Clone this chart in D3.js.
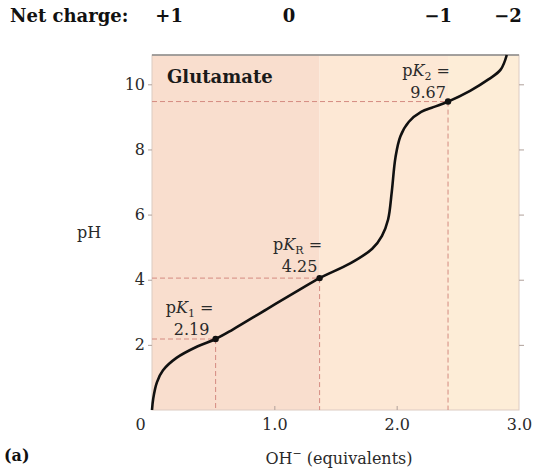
<!DOCTYPE html>
<html><head><meta charset="utf-8">
<script src="https://cdn.jsdelivr.net/npm/d3@7"></script>
<style>body{margin:0;background:#fff}svg{display:block}</style>
</head><body>
<svg id="c" width="533" height="470"></svg>
<script>
// ---- data ----
const curveX = [0, 0.01, 0.04, 0.09, 0.2, 0.37, 0.52, 0.66, 0.94, 1.2, 1.37, 1.62, 1.8, 1.88, 1.93, 1.96, 1.99, 2.03, 2.1, 2.2, 2.3, 2.42, 2.6, 2.75, 2.85, 2.9];
const curvePH = [0, 0.35, 0.85, 1.22, 1.6, 1.95, 2.18, 2.47, 3.1, 3.68, 4.05, 4.5, 4.95, 5.35, 5.85, 6.7, 7.75, 8.4, 8.85, 9.15, 9.3, 9.47, 9.8, 10.15, 10.45, 10.9];
const pkNames = ["1", "R", "2"];
const pkValues = ["2.19", "4.25", "9.67"];
const pkX = [0.52, 1.37, 2.42];
const pkPH = [2.18, 4.05, 9.47];
const chargeLabels = ["+1", "0", "\u22121", "\u22122"];
const chargeX = [0.14, 1.12, 2.34, 2.91];
const yTicks = [2, 4, 6, 8, 10];
const xTicks = [0, 1, 2, 3];
const bandEdges = [0, 1.37, 2.42, 3];
const bandColors = ["#f9dece", "#fde8d5", "#fdedd7"];

// ---- chart ----
const svg = d3.select("#c");
const x = d3.scaleLinear().domain([0, 3]).range([152, 519]);
const y = d3.scaleLinear().domain([0, 10.9]).range([410, 55]);
const serif = "'DejaVu Serif', 'Liberation Serif', serif";

// background bands
svg.selectAll("rect.band").data(bandColors).join("rect")
  .attr("x", (d, i) => x(bandEdges[i]))
  .attr("width", (d, i) => x(bandEdges[i + 1]) - x(bandEdges[i]))
  .attr("y", y(10.9)).attr("height", y(0) - y(10.9))
  .attr("fill", d => d);

// frame
svg.append("rect").attr("x", x(0)).attr("y", y(10.9))
  .attr("width", x(3) - x(0)).attr("height", y(0) - y(10.9))
  .attr("fill", "none").attr("stroke", "#dccbc2").attr("stroke-width", 1);
svg.append("line").attr("x1", x(0)).attr("x2", x(3)).attr("y1", y(10.9)).attr("y2", y(10.9))
  .attr("stroke", "#8a8a8a").attr("stroke-width", 1.5);

// axes
const yAxis = svg.append("g").attr("transform", `translate(${x(0)},0)`)
  .call(d3.axisLeft(y).tickValues(yTicks).tickSize(4).tickPadding(3));
const yAxisR = svg.append("g").attr("transform", `translate(${x(3)},0)`)
  .call(d3.axisLeft(y).tickValues(yTicks).tickSize(-5).tickFormat(""));
const xAxis = svg.append("g").attr("transform", `translate(0,${y(0)})`)
  .call(d3.axisBottom(x).tickValues(xTicks).tickSizeInner(-4).tickSizeOuter(0).tickPadding(9)
    .tickFormat(d => d === 0 ? "0" : d3.format(".1f")(d)));
[yAxis, yAxisR, xAxis].forEach(g => {
  g.select(".domain").remove();
  g.selectAll("line").attr("stroke", "#b0a09a");
  g.selectAll("text").attr("font-family", serif).attr("font-size", 16).attr("fill", "#2a2a2a");
});
xAxis.selectAll(".tick").filter(d => d === 0 || d === 3).select("line").remove();
xAxis.selectAll(".tick").filter(d => d === 0).select("text").attr("dx", -12);

// dashed guides
const guides = svg.append("g").attr("stroke", "#d48a80").attr("stroke-width", 1).attr("stroke-dasharray", "5,3");
pkX.forEach((px, i) => {
  guides.append("line").attr("x1", x(0)).attr("x2", x(px)).attr("y1", y(pkPH[i])).attr("y2", y(pkPH[i]));
  guides.append("line").attr("x1", x(px)).attr("x2", x(px)).attr("y1", y(pkPH[i])).attr("y2", y(0));
});

// titration curve
const pts = curveX.map((v, i) => [v, curvePH[i]]);
svg.append("path").datum(pts)
  .attr("d", d3.line().x(d => x(d[0])).y(d => y(d[1])).curve(d3.curveCatmullRom.alpha(0.5)))
  .attr("fill", "none").attr("stroke", "#111").attr("stroke-width", 2.6);

// points
svg.selectAll("circle.pk").data(pkX).join("circle")
  .attr("cx", d => x(d)).attr("cy", (d, i) => y(pkPH[i])).attr("r", 3.2).attr("fill", "#111");

// pK labels
const labelOffX = [-26, -22, -22];
const labelOffY = [-26, -28, -26];
pkX.forEach((px, i) => {
  const cx = x(px) + labelOffX[i], by = y(pkPH[i]) + labelOffY[i];
  const t = svg.append("text").attr("x", cx).attr("y", by).attr("text-anchor", "middle")
    .attr("font-family", serif).attr("font-size", 16).attr("fill", "#2a2a2a");
  t.append("tspan").text("p");
  t.append("tspan").attr("font-style", "italic").text("K");
  t.append("tspan").attr("font-size", 11).attr("dy", 4).text(pkNames[i]);
  t.append("tspan").attr("dy", -4).text(" =");
  svg.append("text").attr("x", cx + 2).attr("y", by + 22).attr("text-anchor", "middle")
    .attr("font-family", serif).attr("font-size", 16).attr("fill", "#2a2a2a").text(pkValues[i]);
});

// title inside plot
svg.append("text").attr("x", 167).attr("y", 83).attr("font-family", serif).attr("font-weight", "bold")
  .attr("font-size", 18).attr("fill", "#1a1a1a").text("Glutamate");

// net charge header
svg.append("text").attr("x", 10).attr("y", 22).attr("font-family", serif).attr("font-weight", "bold")
  .attr("font-size", 18).attr("fill", "#111").text("Net charge:");
svg.selectAll("text.charge").data(chargeLabels).join("text")
  .attr("x", (d, i) => x(chargeX[i])).attr("y", 22).attr("text-anchor", "middle")
  .attr("font-family", serif).attr("font-weight", "bold").attr("font-size", 18).attr("fill", "#111")
  .text(d => d);

// axis titles
svg.append("text").attr("x", 89).attr("y", 238).attr("text-anchor", "middle")
  .attr("font-family", serif).attr("font-size", 16).attr("fill", "#2a2a2a").text("pH");
const xt = svg.append("text").attr("x", 339).attr("y", 464).attr("text-anchor", "middle")
  .attr("font-family", serif).attr("font-size", 16).attr("fill", "#2a2a2a");
xt.append("tspan").text("OH");
xt.append("tspan").attr("font-size", 11).attr("dy", -7).text("\u2212");
xt.append("tspan").attr("dy", 7).text(" (equivalents)");

svg.append("text").attr("x", 4).attr("y", 461).attr("font-family", serif).attr("font-weight", "bold")
  .attr("font-size", 16).attr("fill", "#111").text("(a)");
</script>
</body></html>
